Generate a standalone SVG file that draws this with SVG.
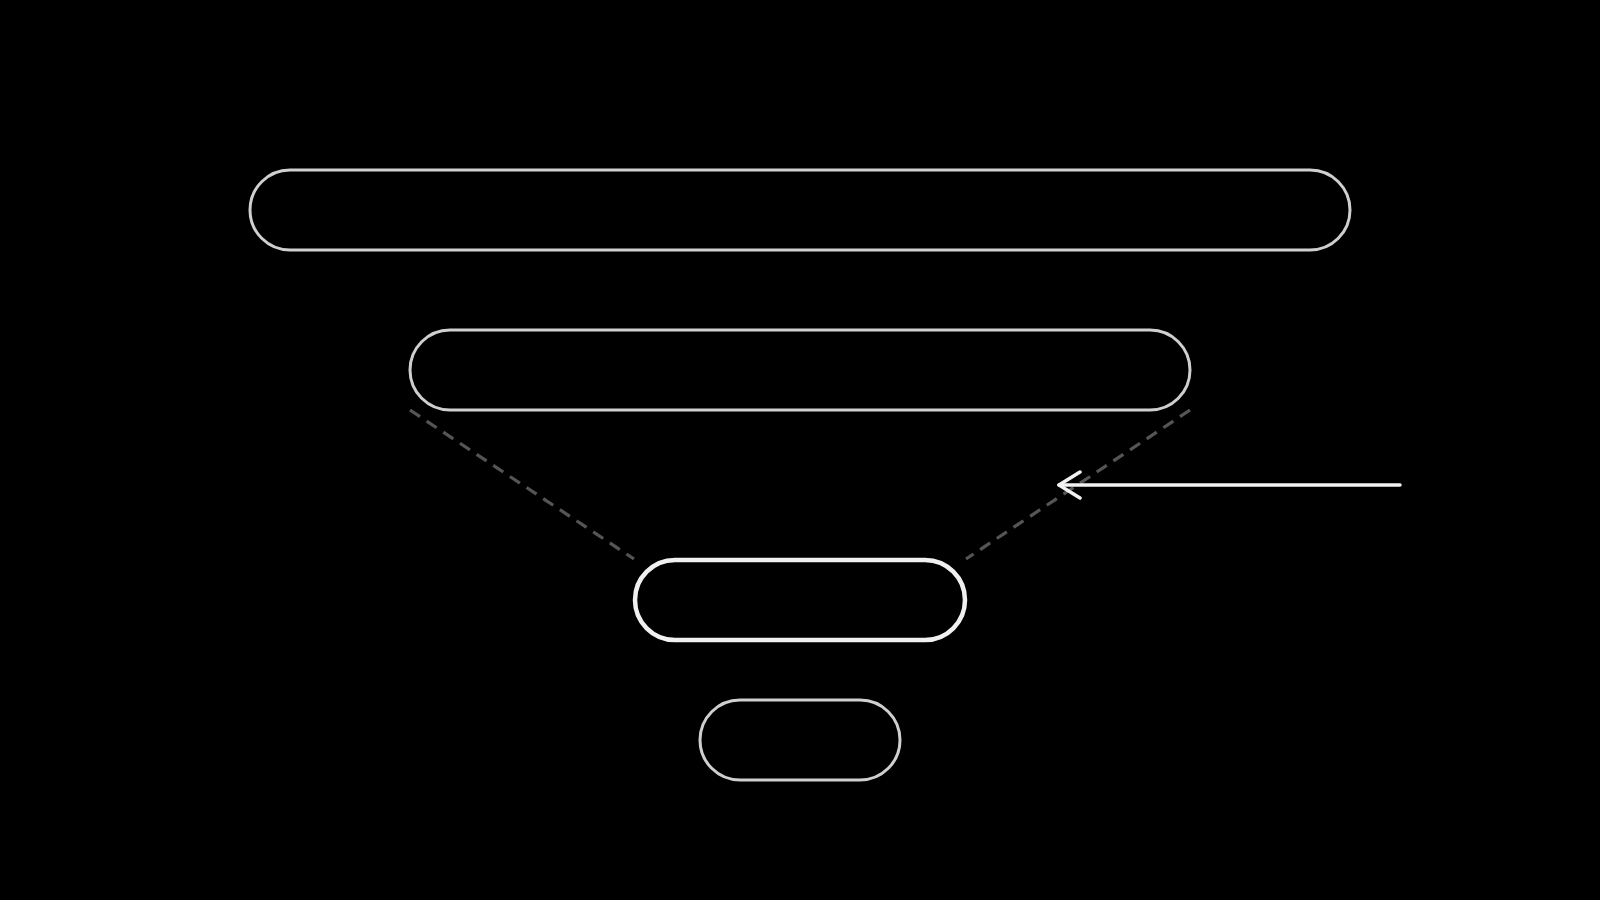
<svg xmlns="http://www.w3.org/2000/svg" width="1600" height="900" viewBox="0 0 1600 900">
  <defs>
    <style>
      .pill { fill: #000; stroke: #cfcfcf; stroke-width: 3; }
      .pill.focus { stroke: #f0f0f0; stroke-width: 4.5; }
      .guide { stroke: #555; stroke-width: 3.2; stroke-dasharray: 12 8; fill: none; }
      .pointer { stroke: #f2f2f2; stroke-width: 3.5; fill: none; stroke-linecap: round; stroke-linejoin: round; }
    </style>
    <marker id="chev" viewBox="0 0 30 30" refX="27" refY="15" markerWidth="30" markerHeight="30" markerUnits="userSpaceOnUse" orient="auto">
      <path d="M6 2 L27 15 L6 28" fill="none" stroke="#f2f2f2" stroke-width="3.5" stroke-linecap="round" stroke-linejoin="round"/>
    </marker>
  </defs>
  <rect width="1600" height="900" fill="#000"/>
  <g id="connectors">
    <line class="guide" x1="410" y1="410" x2="634" y2="559"/>
    <line class="guide" x1="1190" y1="410" x2="966" y2="559"/>
    <line class="pointer" x1="1400" y1="485" x2="1059" y2="485" marker-end="url(#chev)"/>
  </g>
  <g id="node1"><rect class="pill" x="250" y="170" width="1100" height="80" rx="40"/></g>
  <g id="node2"><rect class="pill" x="410" y="330" width="780" height="80" rx="40"/></g>
  <g id="node3"><rect class="pill focus" x="635" y="560" width="330" height="80" rx="40"/></g>
  <g id="node4"><rect class="pill" x="700" y="700" width="200" height="80" rx="40"/></g>
</svg>
